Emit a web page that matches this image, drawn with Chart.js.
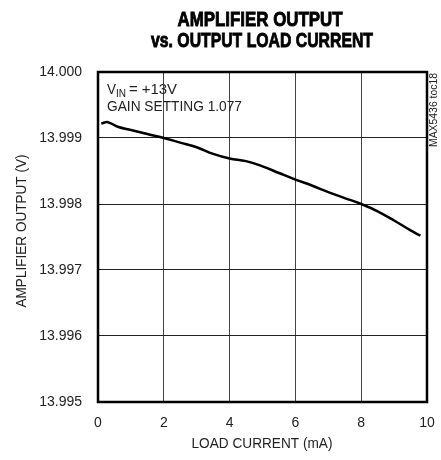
<!DOCTYPE html>
<html>
<head>
<meta charset="utf-8">
<script src="https://cdn.jsdelivr.net/npm/chart.js@4/dist/chart.umd.min.js"></script>
<style>
  html, body { margin: 0; padding: 0; background: #fff; }
  #wrap { width: 441px; height: 460px; }
</style>
</head>
<body>
<div id="wrap"><canvas id="myChart" width="441" height="460"></canvas></div>
<script>
var loadCurrent = [0.1, 0.3, 0.6, 1, 1.5, 2, 2.5, 3, 3.5, 4, 4.5, 5, 5.5, 6, 6.5, 7, 7.5, 8, 8.5, 9, 9.5, 9.8];
var ampOutput = [13.99922, 13.99924, 13.99917, 13.99912, 13.99906, 13.99900, 13.99893, 13.99886, 13.99876, 13.99869,
                 13.99865, 13.99857, 13.99847, 13.99837, 13.99828, 13.99818, 13.99809, 13.99800, 13.99789, 13.99775,
                 13.99760, 13.99752];
var xTicks = [0, 2, 4, 6, 8, 10];
var yTicks = [13.995, 13.996, 13.997, 13.998, 13.999, 14.000];

var FONT = '"Liberation Sans", Arial, sans-serif';

var points = loadCurrent.map(function (x, i) { return { x: x, y: ampOutput[i] }; });

// draw text squeezed to a given width (condensed look)
function fitText(c, txt, x, y, width, align, heavy) {
    var w = c.measureText(txt).width;
    var k = width / w;
    c.save();
    c.translate(x, y);
    c.scale(k, 1);
    c.textAlign = align || 'center';
    c.fillText(txt, 0, 0);
    if (heavy) {
        c.lineWidth = heavy;
        c.strokeStyle = c.fillStyle;
        c.strokeText(txt, 0, 0);
    }
    c.restore();
}

// titles, notes, frame
var decor = {
    id: 'decor',
    afterDraw: function (chart) {
        var c = chart.ctx, a = chart.chartArea;
        c.save();
        c.strokeStyle = '#000';
        c.lineWidth = 2.5;
        c.strokeRect(a.left, a.top, a.right - a.left, a.bottom - a.top);

        c.fillStyle = '#000';
        c.textBaseline = 'middle';
        c.font = 'bold 21px ' + FONT;
        fitText(c, 'AMPLIFIER OUTPUT', 260, 20, 165, 'center', 0.9);
        fitText(c, 'vs. OUTPUT LOAD CURRENT', 262, 41, 222, 'center', 0.9);

        c.fillStyle = '#222';
        c.font = '15px ' + FONT;
        fitText(c, 'LOAD CURRENT (mA)', 262, 444, 141);

        c.save();
        c.translate(22, 231);
        c.rotate(-Math.PI / 2);
        fitText(c, 'AMPLIFIER OUTPUT (V)', 0, 0, 153);
        c.restore();

        c.save();
        c.translate(434, 110);
        c.rotate(-Math.PI / 2);
        c.font = '10px ' + FONT;
        fitText(c, 'MAX5436 toc18', 0, 0, 74);
        c.restore();

        c.font = '15px ' + FONT;
        fitText(c, 'V', 107, 90, 9, 'left');
        c.font = '10px ' + FONT;
        fitText(c, 'IN', 116, 94, 10, 'left');
        c.font = '15px ' + FONT;
        fitText(c, '= +13V', 129, 90, 48, 'left');
        fitText(c, 'GAIN SETTING 1.077', 107, 107, 135, 'left');
        c.restore();
    }
};

var ctx = document.getElementById('myChart').getContext('2d');
var myChart = new Chart(ctx, {
    type: 'line',
    data: {
        datasets: [{
            data: points,
            borderColor: '#000',
            borderWidth: 2.5,
            pointRadius: 0,
            tension: 0.4,
            fill: false
        }]
    },
    options: {
        responsive: false,
        animation: false,
        events: [],
        layout: { padding: { top: 72, right: 0, left: 0, bottom: 0 } },
        plugins: { legend: { display: false }, tooltip: { enabled: false } },
        scales: {
            x: {
                type: 'linear',
                min: 0,
                max: 10,
                afterBuildTicks: function (s) { s.ticks = xTicks.map(function (v) { return { value: v }; }); },
                afterFit: function (s) { s.height = 58; s.paddingRight = 14; s.paddingLeft = 0; },
                grid: { color: '#444', lineWidth: 1, drawTicks: false },
                border: { display: false },
                ticks: { color: '#222', padding: 13, maxRotation: 0, font: { family: FONT, size: 14 } }
            },
            y: {
                type: 'linear',
                min: 13.995,
                max: 14.000,
                afterBuildTicks: function (s) { s.ticks = yTicks.map(function (v) { return { value: v }; }); },
                afterFit: function (s) { s.width = 98; },
                grid: { color: '#222', lineWidth: 1, drawTicks: false },
                border: { display: false },
                ticks: {
                    color: '#222',
                    padding: 16,
                    font: { family: FONT, size: 14 },
                    callback: function (v) { return Number(v).toFixed(3); }
                }
            }
        }
    },
    plugins: [decor]
});
</script>
</body>
</html>
